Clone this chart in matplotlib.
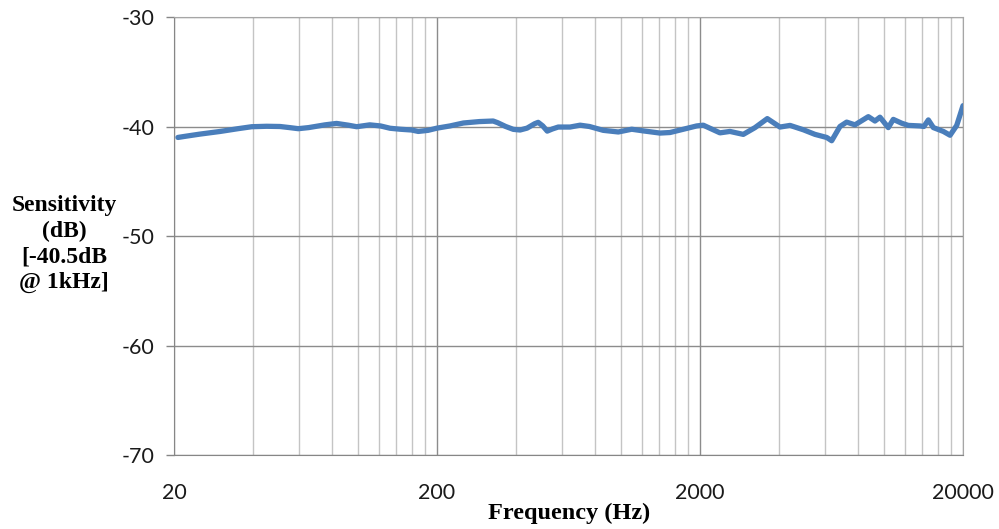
import numpy as np
import matplotlib
matplotlib.use('Agg')
import matplotlib.pyplot as plt
from matplotlib.ticker import FixedLocator, NullFormatter

plt.rcParams['axes.unicode_minus'] = False

# frequency response readings (Hz, dB)
freq = [20.7, 22, 25, 30, 35, 39.5, 45, 50.6, 55, 59.4, 65, 75, 83, 92, 99, 111,
        122, 132.6, 145, 160, 169.8, 185, 200, 224, 252, 290, 327, 340, 365,
        390, 414, 440, 470, 485, 505, 525, 550, 578, 641, 700, 760, 857, 978, 1100,
        1217, 1409, 1538, 1729, 1942, 2058, 2200, 2382, 2600, 2922, 3238, 3605,
        4029, 4399, 4944, 5474, 6063, 6335, 6810, 7222, 7767, 8730, 9253, 9667,
        10398, 10864, 11693, 12394, 13735, 14200, 14767, 15430, 16840, 17860,
        18930, 20000]
sens = [-41.0, -40.9, -40.7, -40.45, -40.2, -40.02, -39.98, -40.0, -40.1, -40.2, -40.1,
        -39.85, -39.72, -39.88, -40.02, -39.85, -39.95, -40.16, -40.25, -40.32,
        -40.45, -40.35, -40.15, -39.95, -39.68, -39.55, -39.5, -39.65, -40.0,
        -40.26, -40.32, -40.15, -39.75, -39.62, -39.95, -40.42, -40.22, -40.05, -40.05,
        -39.88, -40.0, -40.35, -40.5, -40.25, -40.4, -40.6, -40.55, -40.25,
        -39.95, -39.88, -40.2, -40.58, -40.45, -40.72, -40.1, -39.28, -40.05,
        -39.9, -40.3, -40.72, -41.0, -41.3, -40.0, -39.6, -39.85, -39.1,
        -39.5, -39.15, -40.1, -39.35, -39.7, -39.9, -39.95, -40.0, -39.4, -40.1,
        -40.45, -40.8, -39.9, -38.1]

x_major = [20, 200, 2000, 20000]
x_labels = ['20', '200', '2000', '20000']
y_ticks = [-70, -60, -50, -40, -30]

fig = plt.figure(figsize=(9.99, 5.29), dpi=100)
ax = fig.add_axes([174 / 999, 1 - 455 / 529, (963 - 174) / 999, (455 - 17) / 529])

ax.plot(freq, sens, color='#4a7ebb', linewidth=3.8, solid_joinstyle='round',
        solid_capstyle='round', zorder=3)

ax.set_xscale('log')
ax.set_xlim(20, 20000)
ax.set_ylim(-70, -30)

minor = [20 * k * 10 ** n for n in range(3) for k in range(2, 10)]
ax.xaxis.set_major_locator(FixedLocator(x_major))
ax.xaxis.set_minor_locator(FixedLocator(minor))
ax.xaxis.set_minor_formatter(NullFormatter())
ax.set_xticklabels(x_labels)
ax.set_yticks(y_ticks)
ax.set_yticklabels([str(v) for v in y_ticks])

for lab in ax.get_xticklabels() + ax.get_yticklabels():
    lab.set_fontfamily('Lato')
    lab.set_fontsize(15.5)
    lab.set_color('#1a1a1a')

ax.tick_params(axis='x', which='both', length=0, pad=20)
ax.tick_params(axis='y', length=6, width=1, color='#868686', pad=8)

ax.grid(True, axis='y', color='#8c8c8c', linewidth=1)
ax.grid(True, axis='x', which='major', color='#8c8c8c', linewidth=1)
ax.grid(True, axis='x', which='minor', color='#c4c4c4', linewidth=1)
ax.set_axisbelow(True)

for side in ['top', 'right']:
    ax.spines[side].set_color('#a6a6a6')
for side in ['left', 'bottom']:
    ax.spines[side].set_color('#868686')

fig.text(64 / 999, 1 - 244 / 529, 'Sensitivity\n(dB)\n[-40.5dB\n@ 1kHz]',
         family='Liberation Serif', fontweight='bold', fontsize=17,
         ha='center', va='center', multialignment='center', linespacing=1.3)
fig.text(569 / 999, 1 - 513 / 529, 'Frequency (Hz)',
         family='Liberation Serif', fontweight='bold', fontsize=17.5,
         ha='center', va='center')

fig.savefig('out.png', dpi=100)
